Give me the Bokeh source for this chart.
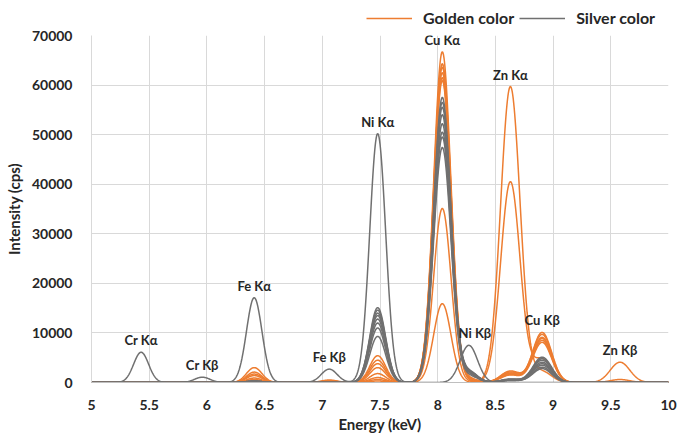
import numpy as np
from bokeh.plotting import figure
from bokeh.layouts import column
from bokeh.models import FixedTicker, Legend, LegendItem, ColumnDataSource, CustomJSTickFormatter
from bokeh.core.properties import value
from bokeh.embed import file_html
from bokeh.resources import INLINE

# ---------------- data ----------------
peak_names = ["Cr Kα", "Cr Kβ", "Fe Kα", "Fe Kβ", "Ni Kα", "Cu Kα", "Ni Kβ", "Zn Kα", "Cu Kβ", "Zn Kβ"]
peak_energy = [5.43, 5.96, 6.41, 7.06, 7.48, 8.04, 8.27, 8.63, 8.905, 9.58]   # keV
peak_sigma = [0.065, 0.067, 0.067, 0.069, 0.069, 0.075, 0.075, 0.084, 0.082, 0.085]  # keV

# Golden-colour samples: peak intensities (cps), one entry per sample
gold_cr_ka = [0, 0, 0, 0, 0, 0, 0, 0]
gold_cr_kb = [0, 0, 0, 0, 0, 0, 0, 0]
gold_fe_ka = [3000, 2100, 1400, 900, 600, 1700, 300, 200]
gold_fe_kb = [500, 350, 250, 150, 100, 300, 50, 0]
gold_ni_ka = [5400, 3800, 3000, 1800, 1000, 4500, 600, 300]
gold_cu_ka = [66700, 64300, 63600, 62500, 61500, 60900, 35100, 15900]
gold_ni_kb = [800, 550, 450, 250, 150, 650, 100, 0]
gold_zn_ka = [1800, 2100, 1600, 2300, 1500, 1900, 40500, 59700]
gold_cu_kb = [10100, 9700, 9100, 8900, 8100, 8500, 4700, 2200]
gold_zn_kb = [0, 0, 0, 0, 0, 0, 600, 4100]

# Silver-colour samples
silver_cr_ka = [6100, 0, 0, 0, 0, 0, 0, 0, 0]
silver_cr_kb = [1070, 0, 0, 0, 0, 0, 0, 0, 0]
silver_fe_ka = [17100, 300, 200, 300, 200, 250, 200, 150, 300]
silver_fe_kb = [2700, 0, 0, 0, 0, 0, 0, 0, 0]
silver_ni_ka = [50200, 15100, 14600, 14000, 13500, 12800, 12000, 11000, 9300]
silver_cu_ka = [0, 57500, 56500, 55500, 54000, 52200, 50500, 49500, 47400]
silver_ni_kb = [7500, 2200, 2100, 2000, 1950, 1850, 1750, 1600, 1350]
silver_zn_ka = [0, 600, 500, 700, 400, 600, 500, 400, 600]
silver_cu_kb = [0, 5100, 4800, 4500, 4100, 3800, 3500, 3100, 2800]
silver_zn_kb = [0, 0, 0, 0, 0, 0, 0, 0, 0]

x_ticks = [5, 5.5, 6, 6.5, 7, 7.5, 8, 8.5, 9, 9.5, 10]
y_ticks = [0, 10000, 20000, 30000, 40000, 50000, 60000, 70000]
legend_labels = ["Golden color", "Silver color"]

GOLD = "#ED7D31"
SILVER = "#707070"
FONT = "Lato"
TXT = "#262626"

energy = np.linspace(5, 10, 1201)


def spectrum(heights):
    y = np.zeros_like(energy)
    for h, e0, s in zip(heights, peak_energy, peak_sigma):
        y += h * np.exp(-0.5 * ((energy - e0) / s) ** 2)
    return y


gold_table = list(zip(gold_cr_ka, gold_cr_kb, gold_fe_ka, gold_fe_kb, gold_ni_ka,
                      gold_cu_ka, gold_ni_kb, gold_zn_ka, gold_cu_kb, gold_zn_kb))
silver_table = list(zip(silver_cr_ka, silver_cr_kb, silver_fe_ka, silver_fe_kb, silver_ni_ka,
                        silver_cu_ka, silver_ni_kb, silver_zn_ka, silver_cu_kb, silver_zn_kb))

# ---------------- legend strip (top) ----------------
top = figure(width=678, height=27, x_range=(0, 1), y_range=(0, 1),
             x_axis_type=None, y_axis_type=None, output_backend="svg",
             toolbar_location=None, min_border=0,
             min_border_left=91, min_border_right=10)
top.outline_line_color = None
top.grid.visible = False
# legend proxies (kept outside the visible range)
lg = top.line([-2, -1], [-2, -1], line_color=GOLD, line_width=1.5)
ls = top.line([-2, -1], [-2, -1], line_color=SILVER, line_width=1.5)
legend = Legend(items=[LegendItem(label=legend_labels[0], renderers=[lg]),
                       LegendItem(label=legend_labels[1], renderers=[ls])],
                orientation="horizontal", location=(275, 0),
                glyph_width=46, glyph_height=14, label_height=14,
                label_standoff=11, spacing=5, padding=0, margin=0,
                label_text_font=FONT, label_text_font_style="bold",
                label_text_font_size="16px", label_text_color=TXT,
                border_line_color=None, background_fill_alpha=0)
top.add_layout(legend, "center")

# ---------------- main chart ----------------
p = figure(width=678, height=408, x_range=(5, 10), y_range=(0, 70000),
           output_backend="svg", toolbar_location=None,
           min_border_left=91, min_border_right=10, min_border_top=8, min_border_bottom=53)
p.outline_line_color = None
p.background_fill_color = "white"

for row in gold_table:
    p.line(energy, spectrum(row), line_color=GOLD, line_width=1.5)
for row in silver_table:
    p.line(energy, spectrum(row), line_color=SILVER, line_width=1.5)

# peak labels placed just above the tallest curve at each peak
all_rows = gold_table + silver_table
label_y = []
for e0 in peak_energy:
    idx = int(np.argmin(np.abs(energy - e0)))
    label_y.append(max(spectrum(row)[idx] for row in all_rows))
label_dx = [0, 0, 0, 0, 0, 0, 6, 0, 0, 0]
src = ColumnDataSource(dict(x=peak_energy, y=label_y, t=peak_names, dx=label_dx))
p.text(x="x", y="y", text="t", source=src, x_offset="dx", y_offset=-4,
       text_align="center", text_baseline="bottom",
       text_font=value(FONT), text_font_style="bold", text_font_size="13px",
       text_color=TXT)

# axes & grid
p.xaxis.ticker = FixedTicker(ticks=x_ticks)
p.yaxis.ticker = FixedTicker(ticks=y_ticks)
p.xaxis.formatter = CustomJSTickFormatter(code="return String(tick)")
p.yaxis.formatter = CustomJSTickFormatter(code="return String(tick)")
for ax in (p.xaxis[0], p.yaxis[0]):
    ax.major_tick_line_color = None
    ax.minor_tick_line_color = None
    ax.major_label_text_font = FONT
    ax.major_label_text_font_style = "bold"
    ax.major_label_text_font_size = "14px"
    ax.major_label_text_color = TXT
    ax.axis_label_text_font = FONT
    ax.axis_label_text_font_style = "bold"
    ax.axis_label_text_font_size = "15px"
    ax.axis_label_text_color = TXT
p.xaxis.axis_line_color = "#BFBFBF"
p.yaxis.axis_line_color = "#D9D9D9"
p.xaxis.major_label_standoff = 11
p.yaxis.major_label_standoff = 13
p.xaxis.axis_label = "Energy (keV)"
p.yaxis.axis_label = "Intensity (cps)"
p.xaxis.axis_label_standoff = 2
p.yaxis.axis_label_standoff = 6
p.xgrid.grid_line_color = "#D9D9D9"
p.ygrid.grid_line_color = "#D9D9D9"

layout = column(top, p, spacing=0)
open("out.html", "w").write(file_html(layout, INLINE))
